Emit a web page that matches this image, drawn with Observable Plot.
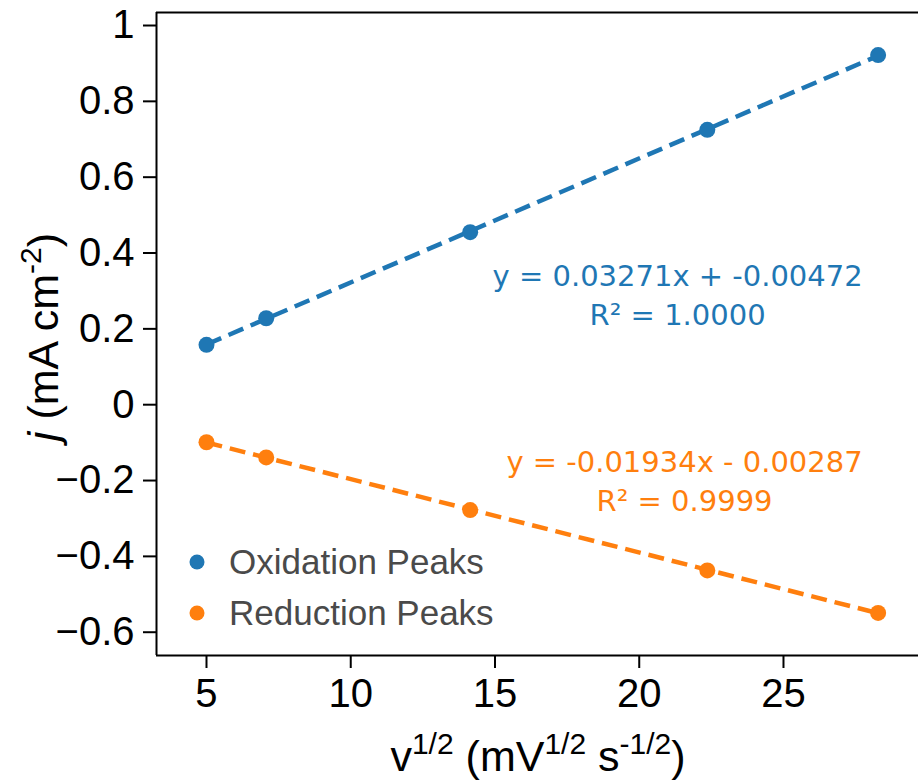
<!DOCTYPE html>
<html><head><meta charset="utf-8">
<script src="https://cdn.jsdelivr.net/npm/d3@7"></script>
<script src="https://cdn.jsdelivr.net/npm/@observablehq/plot@0.6"></script>
<style>body{margin:0;background:#fff} svg{display:block}</style>
</head><body><div id="chart"></div>
<script>
// ---- data ----
const sqrtScanRate = [5.00, 7.07, 14.14, 22.36, 28.28];
const oxidation = [0.158, 0.228, 0.455, 0.725, 0.922];
const reduction = [-0.099, -0.139, -0.278, -0.437, -0.549];
const seriesNames = ["Oxidation Peaks", "Reduction Peaks"];
const seriesColors = ["#1f77b4", "#ff7f0e"];
const fitSlopes = [0.03271, -0.01934];
const fitIntercepts = [-0.00472, -0.00287];
const fitText = ["y = 0.03271x + -0.00472\nR² = 1.0000", "y = -0.01934x - 0.00287\nR² = 0.9999"];
const xTicks = [5, 10, 15, 20, 25];
const yTicks = [-0.6, -0.4, -0.2, 0, 0.2, 0.4, 0.6, 0.8, 1];

// ---- build tables ----
const points = [];
sqrtScanRate.forEach((x, i) => {
  points.push({x, y: oxidation[i], s: seriesNames[0]});
  points.push({x, y: reduction[i], s: seriesNames[1]});
});
const xMin = d3.min(sqrtScanRate), xMax = d3.max(sqrtScanRate);
const fits = [];
seriesNames.forEach((s, k) => {
  [xMin, xMax].forEach(x => fits.push({x, y: fitSlopes[k] * x + fitIntercepts[k], s}));
});
const annot = [
  {x: 21.33, y: 0.294, t: fitText[0], s: seriesNames[0]},
  {x: 21.57, y: -0.1965, t: fitText[1], s: seriesNames[1]}
];

const xDomain = [3.267, 29.68];
const yDomain = [-0.6614, 1.0343];
const W = 918, H = 782;
const mL = 156, mT = 12, mB = 127, mR = 0;

const fmt = d => d === 0 ? "0" : (d < 0 ? "\u2212" : "") + Math.abs(d);

const chart = Plot.plot({
  width: W, height: H,
  marginLeft: mL, marginTop: mT, marginBottom: mB, marginRight: mR,
  style: {background: "#fff", color: "#000", fontFamily: "'Liberation Sans', Arial, sans-serif"},
  x: {domain: xDomain},
  y: {domain: yDomain},
  color: {domain: seriesNames, range: seriesColors},
  marks: [
    Plot.axisX({ticks: xTicks, tickSize: 13, tickPadding: 10, fontSize: 40, label: null, tickFormat: fmt, strokeWidth: 2}),
    Plot.axisY({ticks: yTicks, tickSize: 13, tickPadding: 9, fontSize: 40, label: null, tickFormat: fmt, strokeWidth: 2}),
    Plot.line(fits, {x: "x", y: "y", z: "s", stroke: "s", strokeWidth: 4.5, strokeDasharray: "16,8", strokeLinecap: "butt"}),
    Plot.dot(points, {x: "x", y: "y", fill: "s", r: 8, stroke: null}),
    Plot.text(annot, {x: "x", y: "y", text: "t", fill: "s", fontSize: 29, lineHeight: 1.34, lineAnchor: "middle", textAnchor: "middle", fontFamily: "'DejaVu Sans', Verdana, sans-serif"}),
    Plot.ruleX([xDomain[0]], {stroke: "#000", strokeWidth: 2}),
    Plot.ruleY([yDomain[0], yDomain[1]], {stroke: "#000", strokeWidth: 2})
  ]
});
document.getElementById("chart").appendChild(chart);

const svg = d3.select(chart);
const ff = "'Liberation Sans', Arial, sans-serif";

function sup(el, t, size) {
  el.append("tspan").attr("dy", -17).attr("font-size", size).text(t);
}
function normal(el, t) {
  el.append("tspan").attr("dy", 17).text(t);
}

// x label
const xl = svg.append("text").attr("x", 538).attr("y", 771).attr("text-anchor", "middle")
  .attr("font-family", ff).attr("font-size", 43).attr("fill", "#000");
xl.append("tspan").text("v");
sup(xl, "1/2", 30);
normal(xl, " (mV");
sup(xl, "1/2", 30);
normal(xl, " s");
sup(xl, "-1/2", 30);
normal(xl, ")");

// y label
const yl = svg.append("text").attr("transform", "translate(58,337) rotate(-90)").attr("text-anchor", "middle")
  .attr("font-family", ff).attr("font-size", 43).attr("fill", "#000");
yl.append("tspan").attr("font-style", "italic").text("j");
yl.append("tspan").text(" (mA cm");
sup(yl, "-2", 30);
normal(yl, ")");

// legend
const lg = svg.append("g");
seriesNames.forEach((name, i) => {
  const cy = 562 + i * 51;
  lg.append("circle").attr("cx", 197).attr("cy", cy).attr("r", 7.5).attr("fill", seriesColors[i]);
  lg.append("text").attr("x", 229).attr("y", cy + 12).attr("text-anchor", "start")
    .attr("font-family", ff).attr("font-size", 35).attr("fill", "#4a4a4a").text(name);
});
</script>
</body></html>
